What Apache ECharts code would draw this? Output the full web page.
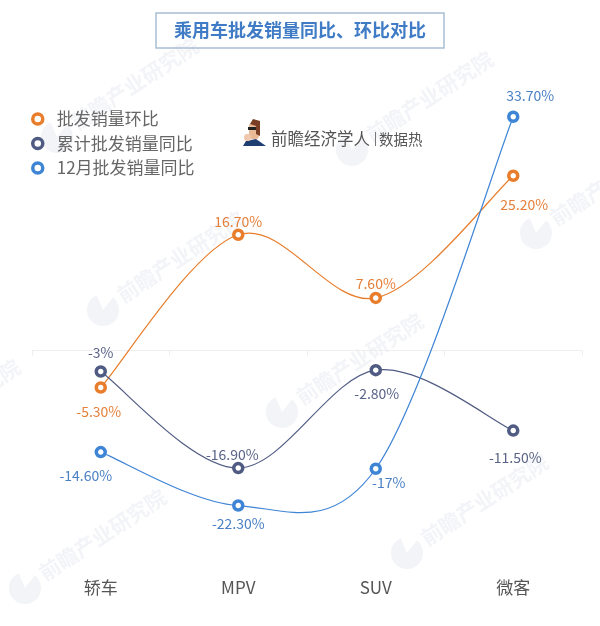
<!DOCTYPE html>
<html>
<head>
<meta charset="utf-8">
<style>html,body{margin:0;padding:0;background:#fff}#chart{width:600px;height:626px}</style>
<script src="https://cdn.jsdelivr.net/npm/echarts@6/dist/echarts.min.js"></script>
</head>
<body>
<div id="chart"></div>
<script>
const FONT = '"Noto Sans CJK SC", "Noto Sans", sans-serif'

const categories = ['轿车', 'MPV', 'SUV', '微客']
const huanbi = [-5.3, 16.7, 7.6, 25.2]          // 批发销量环比
const leijiTongbi = [-3, -16.9, -2.8, -11.5]    // 累计批发销量同比
const decTongbi = [-14.6, -22.3, -17, 33.7]     // 12月批发销量同比

// 每个点的标签位置：[position, dx, dy]
const huanbiLabels = [['bottom', -2, 6], ['top', 0, 5], ['top', 0, 4], ['bottom', 11, 11]]
const leijiLabels = [['top', 0, -1], ['top', -6, 5], ['bottom', 1, 5], ['bottom', 2, 9]]
const decLabels = [['bottom', -15, 5], ['bottom', 0, 0], ['bottom', 13, -4], ['top', 17, -3]]

function fmt(v) {                                // 整数不带小数，其余保留两位
  return Number.isInteger(v) ? v + '%' : v.toFixed(2) + '%'
}

// 点和标签：折线本身隐藏，曲线由 curveSeries 画
function pointSeries(name, values, labels, color, labelColor) {
  return {
    name: name,
    type: 'line',
    z: 3,
    symbol: 'circle',
    symbolSize: 9,
    lineStyle: { width: 0 },
    itemStyle: { color: '#fff', borderColor: color, borderWidth: 3.5 },
    data: values.map((v, i) => ({
      value: v,
      label: {
        show: true,
        position: labels[i][0],
        offset: [labels[i][1], labels[i][2]],
        formatter: fmt(v),
        color: labelColor,
        fontSize: 14,
        fontFamily: FONT
      }
    }))
  }
}

// 原图的曲线在极值点会过冲，line 的 smooth 做不到，这里用 custom 按切线画贝塞尔
function curveSeries(name, values, color) {
  return {
    name: name + '曲线',
    type: 'custom',
    z: 2,
    silent: true,
    clip: false,
    encode: { x: 0, y: 1 },
    data: values.map((v, i) => [i, v]),
    renderItem: function (params, api) {
      const i = params.dataIndex
      if (i >= values.length - 1) return null
      const at = k => {
        const n = Math.max(0, Math.min(values.length - 1, k))
        return api.coord([n, values[n]])
      }
      const p0 = at(i - 1), p1 = at(i), p2 = at(i + 1), p3 = at(i + 2)
      return {
        type: 'bezierCurve',
        shape: {
          x1: p1[0], y1: p1[1],
          x2: p2[0], y2: p2[1],
          cpx1: p1[0] + (p2[0] - p0[0]) / 6, cpy1: p1[1] + (p2[1] - p0[1]) / 6,
          cpx2: p2[0] - (p3[0] - p1[0]) / 6, cpy2: p2[1] - (p3[1] - p1[1]) / 6
        },
        style: { fill: null, stroke: color, lineWidth: 1.2 }
      }
    }
  }
}

// 水印：logo 圆心 + 斜排文字
const marks = [[25, 588], [103, 310], [282, 412], [407, 553], [536, 233], [352, 150], [57, 137], [-121, 458]]
const markEls = []
marks.forEach(m => {
  markEls.push({
    type: 'sector', silent: true, z: -1,
    shape: { cx: m[0], cy: m[1], r: 16, r0: 0, startAngle: -0.9, endAngle: 4.3 },
    style: { fill: '#f3f4f8' }
  })
  markEls.push({
    type: 'text', silent: true, z: -1,
    x: m[0] + 16, y: m[1] - 13, rotation: 0.58,
    style: { text: '前瞻产业研究院', fill: '#f3f4f8', font: 'bold 21px ' + FONT, verticalAlign: 'middle' }
  })
})

const chart = echarts.init(document.getElementById('chart'))
chart.setOption({
  backgroundColor: '#fff',
  animation: false,
  title: {
    text: '乘用车批发销量同比、环比对比',
    left: 156,
    top: 13,
    padding: [5, 18],
    borderColor: '#a9bdd4',
    borderWidth: 1.5,
    textStyle: { color: '#3f7cc5', fontSize: 18, fontWeight: 'bold', fontFamily: FONT, lineHeight: 25 }
  },
  legend: {
    orient: 'vertical',
    left: 26,
    top: 104,
    itemWidth: 10,
    itemHeight: 10,
    itemGap: 4.5,
    icon: 'circle',
    itemStyle: { borderWidth: 3.5 },
    textStyle: { color: '#666', fontSize: 17, fontFamily: FONT, lineHeight: 20, padding: [0, 0, 0, 9] },
    data: ['批发销量环比', '累计批发销量同比', '12月批发销量同比']
  },
  grid: { left: 32, right: 18, top: 73, height: 486, outerBoundsMode: 'none' },
  xAxis: {
    type: 'category',
    data: categories,
    axisLine: { lineStyle: { color: '#eeeeee' } },
    axisTick: { show: true, length: 5, lineStyle: { color: '#eeeeee' } },
    axisLabel: { margin: 20, color: '#555', fontSize: 17, fontFamily: FONT }
  },
  yAxis: { type: 'value', min: -30, max: 40, interval: 10, show: false },
  series: [
    curveSeries('批发销量环比', huanbi, '#e87d2b'),
    curveSeries('累计批发销量同比', leijiTongbi, '#4f5b82'),
    curveSeries('12月批发销量同比', decTongbi, '#3f85d6'),
    pointSeries('批发销量环比', huanbi, huanbiLabels, '#e87d2b', '#e5803a'),
    pointSeries('累计批发销量同比', leijiTongbi, leijiLabels, '#4f5b82', '#5a6488'),
    pointSeries('12月批发销量同比', decTongbi, decLabels, '#3f85d6', '#4a80c4')
  ],
  graphic: markEls.concat([
    // 前瞻经济学人 标识
    { type: 'polygon', silent: true, shape: { points: [[243, 146], [246, 141], [256, 139], [266, 146]] }, style: { fill: '#1f3f73' } },
    { type: 'rect', silent: true, shape: { x: 249, y: 123, width: 10, height: 16, r: 3 }, style: { fill: '#eab995' } },
    { type: 'polygon', silent: true, shape: { points: [[250, 124], [253, 119], [260, 121], [260, 136], [256, 134], [256, 126]] }, style: { fill: '#7a3f25' } },
    { type: 'rect', silent: true, shape: { x: 248, y: 127, width: 8, height: 3 }, style: { fill: '#222' } },
    { type: 'rect', silent: true, shape: { x: 244, y: 134, width: 7, height: 7, r: 3 }, style: { fill: '#f0c8ad' } },
    { type: 'text', silent: true, x: 271, y: 139, style: { text: '前瞻经济学人', fill: '#555', font: '16.5px ' + FONT, verticalAlign: 'middle' } },
    { type: 'rect', silent: true, shape: { x: 375, y: 132, width: 1, height: 14 }, style: { fill: '#777' } },
    { type: 'text', silent: true, x: 379, y: 139, style: { text: '数据热', fill: '#555', font: '14.5px ' + FONT, verticalAlign: 'middle' } }
  ])
})
</script>
</body>
</html>
